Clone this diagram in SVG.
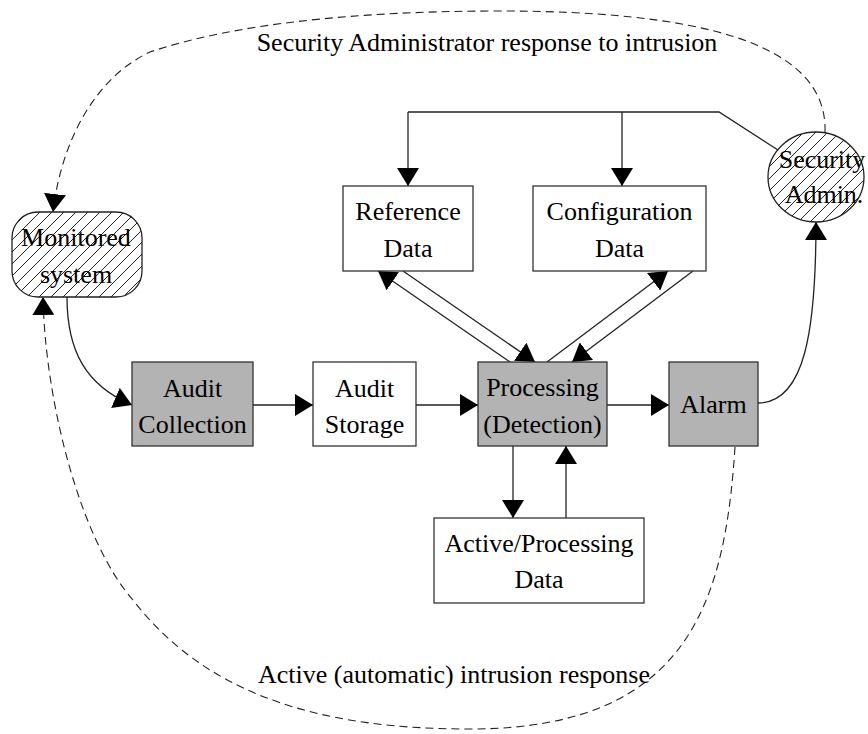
<svg xmlns="http://www.w3.org/2000/svg" width="868" height="734" viewBox="0 0 868 734">
<style>
.box{stroke:#333;stroke-width:1.3;fill:#fff}
.gray{fill:#b3b3b3}
.hatch{stroke:#222;stroke-width:1.3;fill:url(#hatch)}
.ln{stroke:#222;stroke-width:1.3;fill:none}
.dash{stroke:#222;stroke-width:1.1;fill:none;stroke-dasharray:8 5}
.t{font-family:"Liberation Serif","Times New Roman",serif;font-size:26px;fill:#000;text-anchor:middle}
</style>
<defs>
<marker id="ah" viewBox="0 0 18 22" refX="18" refY="11" markerWidth="18" markerHeight="22" markerUnits="userSpaceOnUse" orient="auto">
<path d="M0,0 L18,11 L0,22 z" fill="#000"/>
</marker>
<pattern id="hatch" patternUnits="userSpaceOnUse" width="12" height="12">
<rect width="12" height="12" fill="#fff"/>
<path d="M-3,3 L3,-3 M0,12 L12,0 M9,15 L15,9" stroke="#222" stroke-width="1"/>
</pattern>
</defs>
<g id="connectors">
<path class="ln" d="M408,112 L719,112 L778,150"/>
<path class="ln" d="M408,112 L408,186" marker-end="url(#ah)"/>
<path class="ln" d="M622,112 L622,186" marker-end="url(#ah)"/>
<path class="ln" d="M510,362 L378,271" marker-end="url(#ah)"/>
<path class="ln" d="M403,271 L535,362" marker-end="url(#ah)"/>
<path class="ln" d="M547,362 L668,271" marker-end="url(#ah)"/>
<path class="ln" d="M693,271 L572,362" marker-end="url(#ah)"/>
<path class="ln" d="M67,297 C67,350 85,385 132,405" marker-end="url(#ah)"/>
<path class="ln" d="M253,405 L313,405" marker-end="url(#ah)"/>
<path class="ln" d="M416,405 L478,405" marker-end="url(#ah)"/>
<path class="ln" d="M607,405 L669,405" marker-end="url(#ah)"/>
<path class="ln" d="M513,446 L513,518" marker-end="url(#ah)"/>
<path class="ln" d="M566,518 L566,446" marker-end="url(#ah)"/>
<path class="ln" d="M758,403 C805,403 816,330 816,222" marker-end="url(#ah)"/>
<path class="dash" d="M825,132 C828,40 690,11 500,11 C350,11 230,25 150,52 C90,80 60,150 53,212" marker-end="url(#ah)"/>
<path class="dash" d="M735,447 C725,600 690,729 470,729 C330,729 210,700 133,600 C80,540 45,400 43,297" marker-end="url(#ah)"/>
<text class="t" x="487" y="51">Security Administrator response to intrusion</text>
<text class="t" x="454" y="683">Active (automatic) intrusion response</text>
</g>
<g id="monitored-system">
<rect class="hatch" x="12" y="212" width="130" height="85" rx="26" ry="26"/>
<text class="t" x="76" y="246">Monitored</text>
<text class="t" x="76" y="283">system</text>
</g>
<g id="security-admin">
<ellipse class="hatch" cx="816" cy="177" rx="48" ry="45"/>
<text class="t" x="822" y="168">Security</text>
<text class="t" x="824" y="203">Admin.</text>
</g>
<g id="reference-data">
<rect class="box" x="343" y="186" width="130" height="85"/>
<text class="t" x="408" y="220">Reference</text>
<text class="t" x="408" y="257">Data</text>
</g>
<g id="configuration-data">
<rect class="box" x="533" y="186" width="173" height="85"/>
<text class="t" x="619.5" y="220">Configuration</text>
<text class="t" x="619.5" y="257">Data</text>
</g>
<g id="audit-collection">
<rect class="box gray" x="132" y="362" width="121" height="84"/>
<text class="t" x="192.5" y="397">Audit</text>
<text class="t" x="192.5" y="433">Collection</text>
</g>
<g id="audit-storage">
<rect class="box" x="313" y="362" width="103" height="84"/>
<text class="t" x="364.5" y="397">Audit</text>
<text class="t" x="364.5" y="433">Storage</text>
</g>
<g id="processing">
<rect class="box gray" x="478" y="362" width="129" height="84"/>
<text class="t" x="542.5" y="396">Processing</text>
<text class="t" x="542.5" y="433">(Detection)</text>
</g>
<g id="alarm">
<rect class="box gray" x="669" y="362" width="89" height="84"/>
<text class="t" x="713.5" y="413">Alarm</text>
</g>
<g id="active-processing-data">
<rect class="box" x="434" y="518" width="210" height="85"/>
<text class="t" x="539" y="552">Active/Processing</text>
<text class="t" x="539" y="588">Data</text>
</g>
</svg>
